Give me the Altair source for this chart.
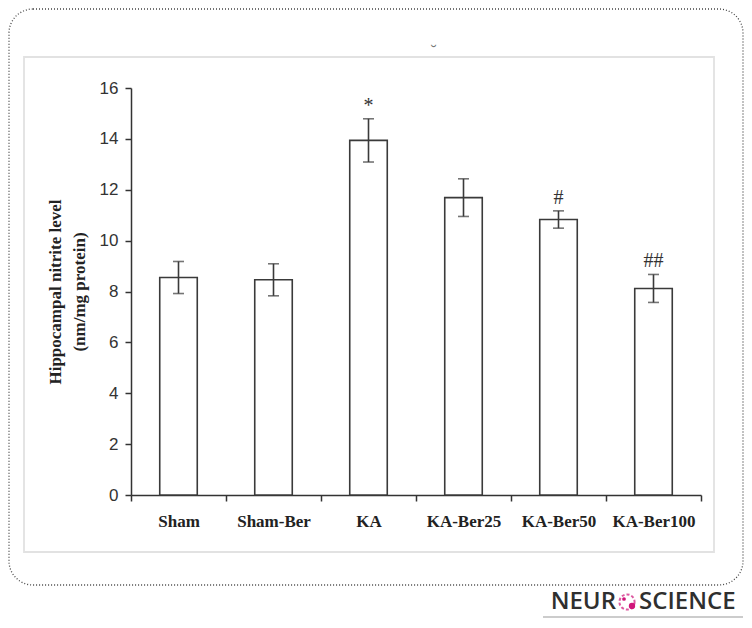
import altair as alt
import pandas as pd

groups = ["Sham", "Sham-Ber", "KA", "KA-Ber25", "KA-Ber50", "KA-Ber100"]
means = [8.55, 8.46, 13.94, 11.69, 10.83, 8.12]
sems = [0.63, 0.63, 0.85, 0.74, 0.34, 0.55]
signif = ["", "", "*", "", "#", "##"]

df = pd.DataFrame({
    "group": groups,
    "mean": means,
    "lo": [m - s for m, s in zip(means, sems)],
    "hi": [m + s for m, s in zip(means, sems)],
    "sig": signif,
})

W, H = 570, 407
SERIF = "Liberation Serif"
SANS = "Liberation Sans"
INK = "#333333"

xenc = alt.X(
    "group:N", sort=groups,
    scale=alt.Scale(paddingInner=0, paddingOuter=0),
    axis=alt.Axis(title=None, labelAngle=0, tickBand="extent", labelFont=SERIF,
                  labelFontWeight="bold", labelFontSize=17, labelColor="#222",
                  labelPadding=12, tickSize=6, tickColor=INK, domainColor=INK,
                  domainWidth=1.5, tickWidth=1.5),
)
yscale = alt.Scale(domain=[0, 16], nice=False)

base = alt.Chart(df)

bars = base.mark_bar(fill="white", stroke="#3a3a3a", strokeWidth=1.6,
                     width=alt.RelativeBandSize(0.395)).encode(
    x=xenc,
    y=alt.Y("mean:Q", scale=yscale,
            axis=alt.Axis(title=["Hippocampal nitrite level", "(nm/mg protein)"],
                          values=list(range(0, 17, 2)), grid=False,
                          titleFont=SERIF, titleFontWeight="bold", titleFontSize=17,
                          titleColor="#222", titleLineHeight=24, titlePadding=11,
                          labelFont=SANS, labelFontSize=17, labelColor=INK,
                          labelPadding=7, tickSize=6, tickColor=INK, domainColor=INK,
                          domainWidth=1.5, tickWidth=1.5)),
)

err = base.mark_rule(color="#3a3a3a", strokeWidth=1.6).encode(
    x=alt.X("group:N", sort=groups), y=alt.Y("lo:Q", scale=yscale), y2="hi:Q")
cap_hi = base.mark_tick(orient="horizontal", size=11, thickness=1.6, color="#3a3a3a").encode(
    x=alt.X("group:N", sort=groups), y=alt.Y("hi:Q", scale=yscale))
cap_lo = base.mark_tick(orient="horizontal", size=11, thickness=1.6, color="#3a3a3a").encode(
    x=alt.X("group:N", sort=groups), y=alt.Y("lo:Q", scale=yscale))
sig = base.mark_text(font=SERIF, fontSize=20, color="#333", baseline="alphabetic", dy=-7).encode(
    x=alt.X("group:N", sort=groups), y=alt.Y("hi:Q", scale=yscale), text="sig:N")

one = alt.Chart(pd.DataFrame({"k": [0]}))

frame = one.mark_rect(fillOpacity=0, stroke="#444", strokeDash=[1, 2], strokeWidth=1.3,
                      cornerRadius=24).encode(
    x=alt.value(-122), x2=alt.value(612), y=alt.value(-79), y2=alt.value(497))
panel_tb = one.mark_rect(fillOpacity=0, stroke="#e2e2e2", strokeWidth=1.8).encode(
    x=alt.value(-107), x2=alt.value(583), y=alt.value(-31), y2=alt.value(464))
breve = one.mark_text(text="˘", font=SANS, fontSize=16, color="#777").encode(
    x=alt.value(303), y=alt.value(-36))

logo_font = "Open Sans"
LOGO_Y = 514
neur = one.mark_text(text="NEUR", font=logo_font, fontWeight=600, fontSize=24,
                     color="#2f2f2f", align="right", baseline="middle").encode(
    x=alt.value(485), y=alt.value(LOGO_Y))
science = one.mark_text(text="SCIENCE", font=logo_font, fontWeight=600, fontSize=24,
                        color="#2f2f2f", align="left", baseline="middle").encode(
    x=alt.value(508), y=alt.value(LOGO_Y))
ring = one.mark_point(shape="circle", size=230, filled=False, stroke="#d0157a",
                      strokeWidth=2, strokeDash=[3, 2]).encode(
    x=alt.value(496), y=alt.value(LOGO_Y))
dot1 = one.mark_point(shape="circle", size=40, filled=True, color="#d0157a", opacity=1).encode(
    x=alt.value(501), y=alt.value(LOGO_Y + 4))
dot2 = one.mark_point(shape="circle", size=14, filled=True, color="#d0157a", opacity=1).encode(
    x=alt.value(493), y=alt.value(LOGO_Y - 3))
underline = one.mark_rule(color="#999", strokeWidth=1).encode(
    x=alt.value(412), x2=alt.value(612), y=alt.value(529))

chart = alt.layer(
    frame, panel_tb, breve, bars, err, cap_hi, cap_lo, sig,
    neur, science, ring, dot1, dot2, underline,
).properties(
    width=W, height=H,
    autosize=alt.AutoSizeParams(type="none"),
    padding={"left": 123, "top": 80, "right": 43, "bottom": 125},
    background="white",
).configure_view(stroke=None)

chart.save("out.html", embed_options={"renderer": "svg", "actions": False})
